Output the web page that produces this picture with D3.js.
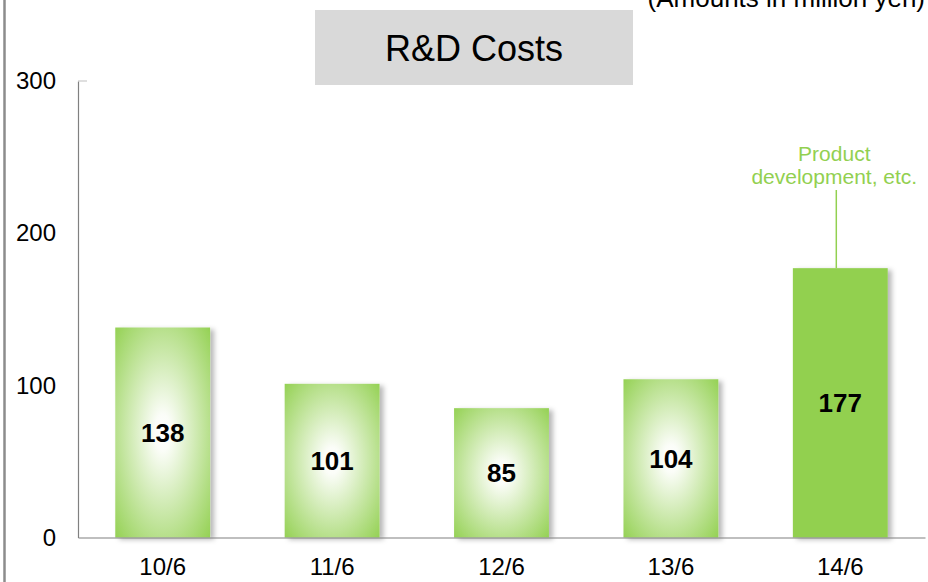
<!DOCTYPE html>
<html>
<head>
<meta charset="utf-8">
<script src="https://cdn.jsdelivr.net/npm/d3@7"></script>
<style>
  html, body { margin: 0; padding: 0; background: #fff; }
  svg { display: block; font-family: "Liberation Sans", Arial, sans-serif; }
</style>
</head>
<body>
<svg id="chart" width="928" height="582"></svg>
<script>
// R&D costs by fiscal period (million yen)
const categories = ["10/6", "11/6", "12/6", "13/6", "14/6"];
const values = [138, 101, 85, 104, 177];
const yTicks = [0, 100, 200, 300];
const titleText = "R&D Costs";
const unitText = "(Amounts in million yen)";
const noteLines = ["Product", "development, etc."];

const svg = d3.select("#chart");
const W = 928, H = 582;
const green = "#92d050";

const x = d3.scaleBand()
  .domain(categories)
  .range([78, 925])
  .paddingInner(0.44)
  .paddingOuter(0.22);

const y = d3.scaleLinear()
  .domain([0, 300])
  .range([537.5, 81]);

const defs = svg.append("defs");
const grad = defs.append("radialGradient")
  .attr("id", "barGlow")
  .attr("cx", 0.5).attr("cy", 0.5).attr("r", 0.72);
grad.append("stop").attr("offset", "0%").attr("stop-color", "#ffffff");
grad.append("stop").attr("offset", "12%").attr("stop-color", "#fbfdf8");
grad.append("stop").attr("offset", "100%").attr("stop-color", green);

const shadow = defs.append("filter")
  .attr("id", "barShadow")
  .attr("x", "-20%").attr("y", "-10%")
  .attr("width", "150%").attr("height", "130%");
shadow.append("feDropShadow")
  .attr("dx", 4).attr("dy", 2)
  .attr("stdDeviation", 2.5)
  .attr("flood-color", "#000")
  .attr("flood-opacity", 0.28);

// left page rule
svg.append("line")
  .attr("x1", 4.5).attr("x2", 4.5)
  .attr("y1", 0).attr("y2", H)
  .attr("stroke", "#8c8c8c").attr("stroke-width", 2.5);

// title box
svg.append("rect")
  .attr("x", 315).attr("y", 10)
  .attr("width", 318).attr("height", 75)
  .attr("fill", "#d9d9d9");
svg.append("text")
  .attr("x", 474).attr("y", 61)
  .attr("text-anchor", "middle")
  .attr("font-size", 36)
  .attr("fill", "#000")
  .text(titleText);

// unit note (top right)
svg.append("text")
  .attr("x", 925).attr("y", 7)
  .attr("text-anchor", "end")
  .attr("font-size", 26)
  .attr("fill", "#000")
  .text(unitText);

// y axis
const yAxis = d3.axisLeft(y).tickValues(yTicks).tickSize(0).tickPadding(22);
const yg = svg.append("g")
  .attr("transform", "translate(78,0)")
  .call(yAxis);
yg.select(".domain").attr("stroke", "#808080").attr("stroke-width", 1.2);
yg.selectAll("text")
  .attr("font-size", 24)
  .attr("font-family", "Liberation Sans, Arial, sans-serif")
  .attr("fill", "#000");
// cap at the top of the axis
svg.append("line")
  .attr("x1", 78).attr("x2", 87)
  .attr("y1", y(300)).attr("y2", y(300))
  .attr("stroke", "#bfbfbf").attr("stroke-width", 1);

// bars
const bars = svg.append("g");
bars.selectAll("rect")
  .data(values)
  .join("rect")
  .attr("x", (d, i) => x(categories[i]))
  .attr("y", d => y(d))
  .attr("width", x.bandwidth())
  .attr("height", d => y(0) - y(d))
  .attr("fill", (d, i) => i === values.length - 1 ? green : "url(#barGlow)")
  .attr("filter", "url(#barShadow)");

// x axis baseline and labels
const xAxis = d3.axisBottom(x).tickSize(0).tickPadding(20);
const xg = svg.append("g")
  .attr("transform", `translate(0,${y(0)})`)
  .call(xAxis);
xg.select(".domain").attr("stroke", "#808080").attr("stroke-width", 1.2);
xg.selectAll("text")
  .attr("font-size", 24)
  .attr("font-family", "Liberation Sans, Arial, sans-serif")
  .attr("fill", "#000");

// value labels at bar centers
svg.append("g").selectAll("text")
  .data(values)
  .join("text")
  .attr("x", (d, i) => x(categories[i]) + x.bandwidth() / 2)
  .attr("y", d => (y(d) + y(0)) / 2)
  .attr("dy", "0.36em")
  .attr("text-anchor", "middle")
  .attr("font-size", 26)
  .attr("font-weight", "bold")
  .attr("fill", "#000")
  .text(d => d);

// callout for the latest period
const lastCat = categories[categories.length - 1];
const lastVal = values[values.length - 1];
const cx = x(lastCat) + x.bandwidth() / 2 - 4;
svg.append("line")
  .attr("x1", cx).attr("x2", cx)
  .attr("y1", 190).attr("y2", y(lastVal))
  .attr("stroke", green).attr("stroke-width", 1.5);
svg.append("text")
  .attr("text-anchor", "middle")
  .attr("font-size", 21)
  .attr("fill", green)
  .selectAll("tspan")
  .data(noteLines)
  .join("tspan")
  .attr("x", cx - 2)
  .attr("y", (d, i) => 161 + i * 23)
  .text(d => d);
</script>
</body>
</html>
